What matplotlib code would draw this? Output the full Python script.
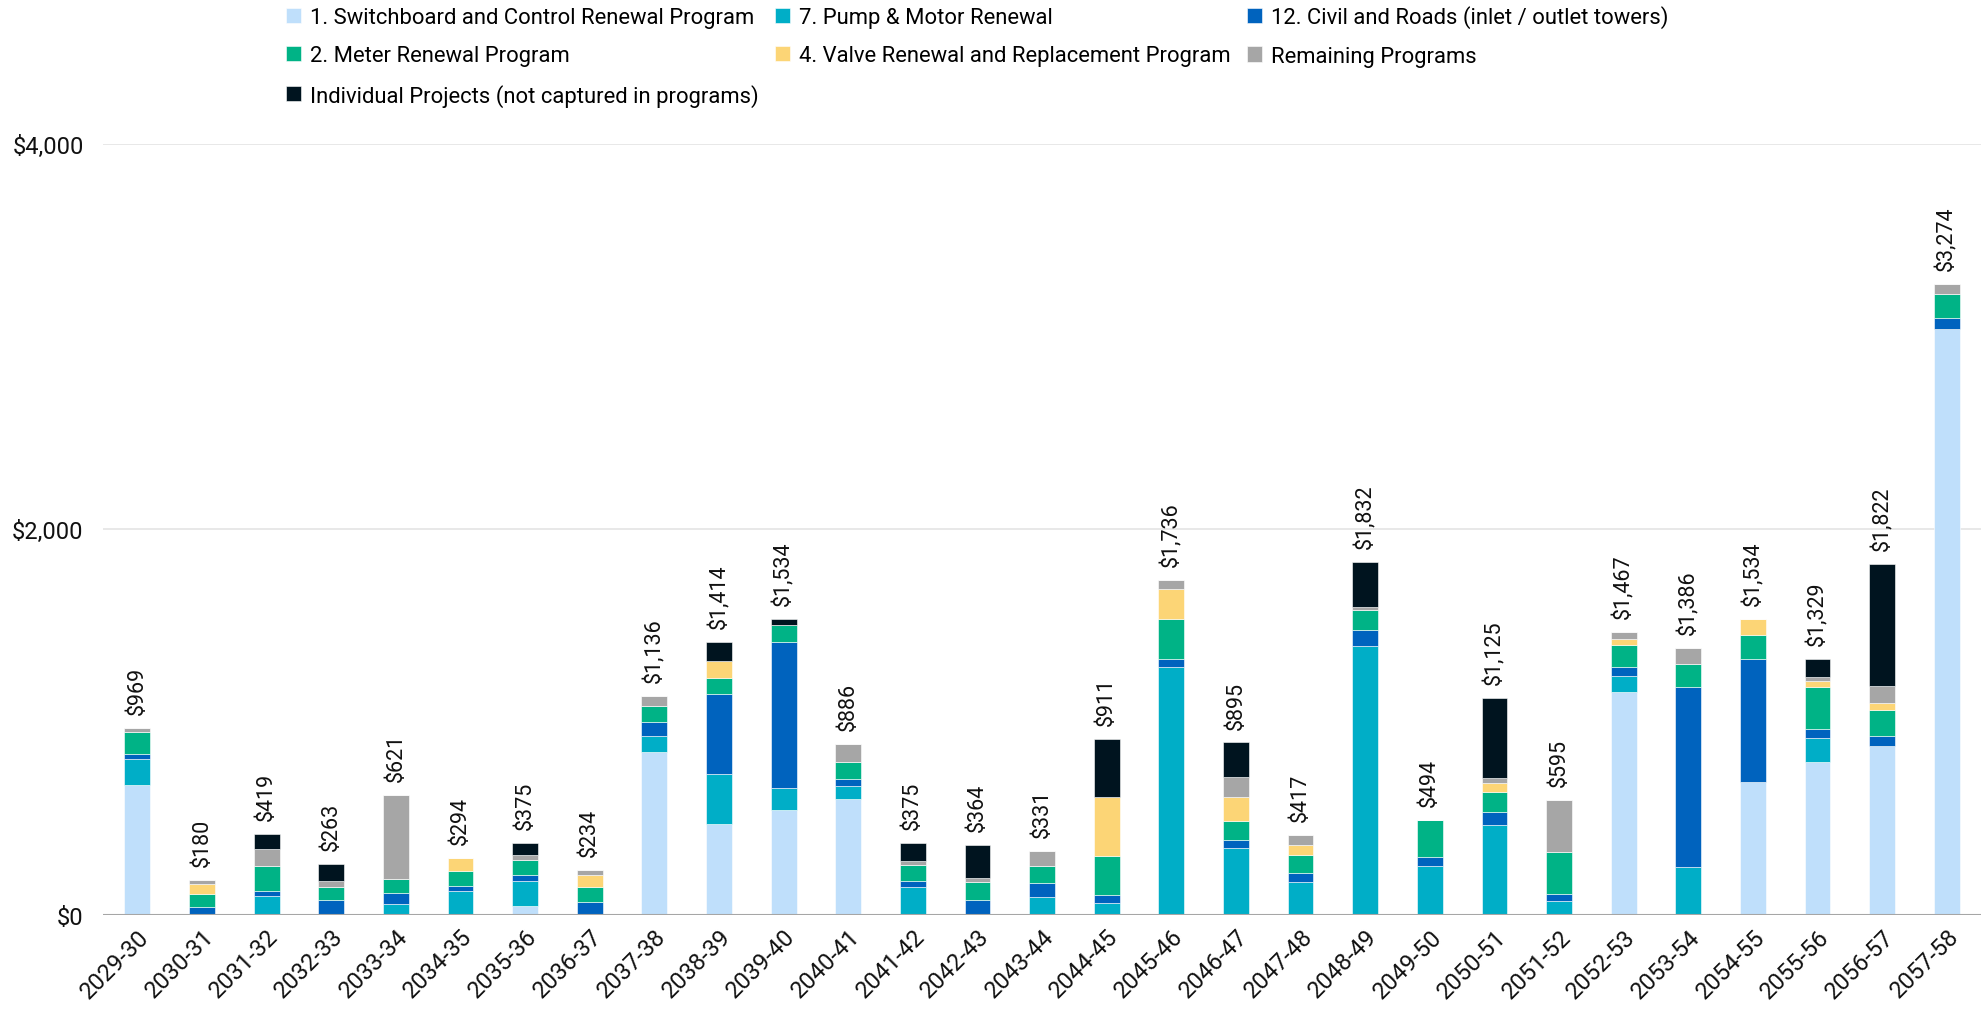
import matplotlib
matplotlib.use("Agg")
import matplotlib.pyplot as plt
import numpy as np

plt.rcParams['font.family'] = ['Roboto', 'DejaVu Sans']

years = ["2029-30", "2030-31", "2031-32", "2032-33", "2033-34", "2034-35", "2035-36",
         "2036-37", "2037-38", "2038-39", "2039-40", "2040-41", "2041-42", "2042-43",
         "2043-44", "2044-45", "2045-46", "2046-47", "2047-48", "2048-49", "2049-50",
         "2050-51", "2051-52", "2052-53", "2053-54", "2054-55", "2055-56", "2056-57",
         "2057-58"]

switchboard = [674, 0, 0, 0, 0, 0, 48, 0, 843, 474, 547, 600, 0, 0, 0, 0, 0, 0, 0, 0,
               0, 0, 0, 1156, 0, 690, 795, 874, 3041]
pump = [133, 0, 98, 0, 57, 123, 128, 0, 85, 258, 113, 71, 145, 0, 95, 60, 1286, 348, 171,
        1395, 256, 467, 70, 85, 250, 0, 125, 0, 0]
civil = [26, 43, 28, 78, 59, 29, 33, 69, 73, 414, 755, 33, 30, 80, 70, 45, 40, 40, 46, 81,
         46, 66, 40, 45, 933, 637, 46, 53, 53]
meter = [115, 67, 126, 69, 71, 76, 76, 78, 83, 81, 88, 88, 85, 90, 90, 200, 211, 99, 92,
         104, 192, 105, 217, 112, 118, 125, 217, 138, 125]
valve = [0, 52, 0, 0, 0, 66, 0, 59, 0, 90, 0, 0, 0, 0, 0, 305, 156, 125, 53, 0, 0, 46, 0,
         33, 0, 82, 33, 33, 0]
remaining = [21, 18, 91, 31, 434, 0, 26, 28, 52, 0, 0, 94, 20, 20, 76, 0, 43, 105, 55, 18,
             0, 26, 268, 36, 85, 0, 20, 92, 55]
individual = [0, 0, 76, 85, 0, 0, 64, 0, 0, 97, 31, 0, 95, 174, 0, 301, 0, 178, 0, 234, 0,
              415, 0, 0, 0, 0, 93, 632, 0]
totals = [969, 180, 419, 263, 621, 294, 375, 234, 1136, 1414, 1534, 886, 375, 364, 331,
          911, 1736, 895, 417, 1832, 494, 1125, 595, 1467, 1386, 1534, 1329, 1822, 3274]

series = [
    ("1. Switchboard and Control Renewal Program", switchboard, "#BFDFFB"),
    ("7. Pump & Motor Renewal", pump, "#00AEC7"),
    ("12. Civil and Roads (inlet / outlet towers)", civil, "#0063BE"),
    ("2. Meter Renewal Program", meter, "#00B386"),
    ("4. Valve Renewal and Replacement Program", valve, "#FCD576"),
    ("Remaining Programs", remaining, "#A6A6A6"),
    ("Individual Projects (not captured in programs)", individual, "#00141F"),
]

fig = plt.figure(figsize=(19.84, 10.2), dpi=100)
ax = fig.add_axes([0.052, 0.102, 0.9465, 0.756])

x = np.arange(len(years))
bottom = np.zeros(len(years))
handles = {}
for name, vals, col in series:
    v = np.array(vals, dtype=float)
    b = ax.bar(x, v, width=0.4, bottom=bottom, color=col, label=name,
               edgecolor="white", linewidth=0.4, zorder=3)
    handles[name] = b
    bottom += v

for xi, t in zip(x, totals):
    ax.annotate(f"${t:,}", (xi, bottom[xi]), xytext=(0, 10), textcoords="offset points",
                rotation=90, ha="center", va="bottom", fontsize=15.5, color="#111111")

ax.set_xlim(-0.53, len(years) - 1 + 0.53)
ax.set_ylim(0, 4000)
ax.set_yticks([0, 2000, 4000])
ax.set_yticklabels([f"${v:,}" for v in [0, 2000, 4000]], fontsize=17, color="#111111")
ax.set_xticks(x)
ax.set_xticklabels(years, rotation=45, ha="right", rotation_mode="anchor", fontsize=17,
                   color="#111111")
ax.tick_params(axis="y", length=0, pad=14)
ax.tick_params(axis="x", length=0, pad=7)
for s in ax.spines.values():
    s.set_visible(False)
ax.grid(axis="y", color="#E6E6E6", linewidth=1.3, zorder=0)
ax.axhline(0, color="#A6A6A6", linewidth=1.5, zorder=4)

order = ["1. Switchboard and Control Renewal Program", "2. Meter Renewal Program",
         "Individual Projects (not captured in programs)", "7. Pump & Motor Renewal",
         "4. Valve Renewal and Replacement Program",
         "12. Civil and Roads (inlet / outlet towers)", "Remaining Programs"]
leg = fig.legend([handles[n] for n in order], order, ncol=3, loc="upper left",
                 bbox_to_anchor=(0.134, 1.013), frameon=False, fontsize=15.8,
                 handlelength=0.7, handleheight=0.7, handletextpad=0.4,
                 columnspacing=0.75, labelspacing=0.78)

fig.savefig("out.png", dpi=100, facecolor="white")
